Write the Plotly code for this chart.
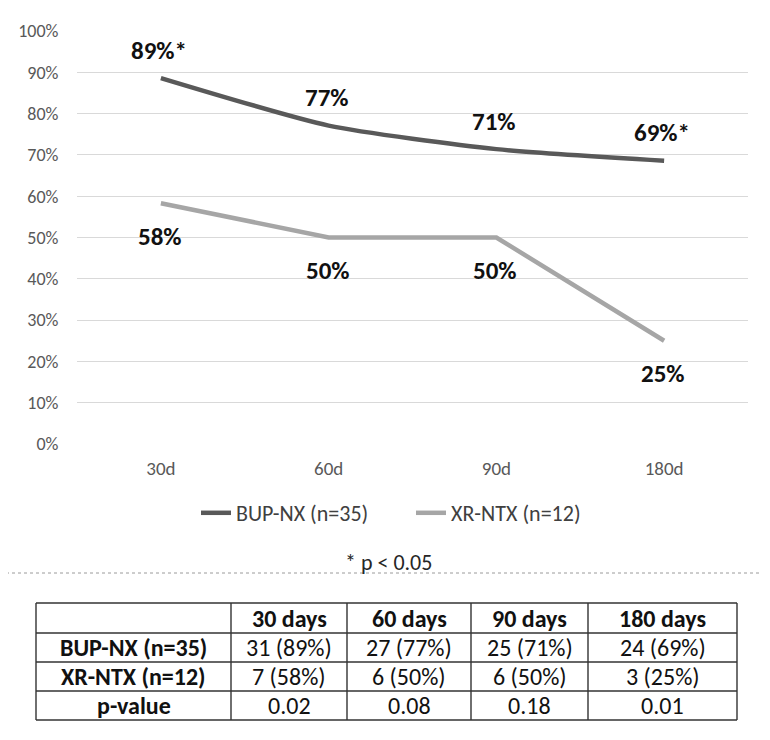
import plotly.graph_objects as go

# ---- data ----
categories = ["30d", "60d", "90d", "180d"]
bup_values = [88.6, 77.1, 71.4, 68.6]
xr_values = [58.3, 50.0, 50.0, 25.0]
bup_labels = ["89%*", "77%", "71%", "69%*"]
xr_labels = ["58%", "50%", "50%", "25%"]
bup_name = "BUP-NX (n=35)"
xr_name = "XR-NTX (n=12)"
y_ticks = [0, 10, 20, 30, 40, 50, 60, 70, 80, 90, 100]
y_tick_text = [f"{v}%" for v in y_ticks]
footnote = "* p < 0.05"

table_header = ["", "30 days", "60 days", "90 days", "180 days"]
table_rows = ["BUP-NX (n=35)", "XR-NTX (n=12)", "p-value"]
table_30 = ["31 (89%)", "7 (58%)", "0.02"]
table_60 = ["27 (77%)", "6 (50%)", "0.08"]
table_90 = ["25 (71%)", "6 (50%)", "0.18"]
table_180 = ["24 (69%)", "3 (25%)", "0.01"]

W, H = 770, 740
OFF = 8  # page body margin offset
FONT = "Carlito, Lato, sans-serif"
DARK = "#595959"
LIGHT = "#a6a6a6"


def px(x):
    return (x - OFF) / W


def py(y):
    return 1 - (y - OFF) / H


fig = go.Figure()
fig.add_trace(go.Scatter(
    x=categories, y=bup_values, name=bup_name, mode="lines",
    line=dict(color=DARK, width=4.5, shape="spline", smoothing=0.6),
    hoverinfo="skip"))
fig.add_trace(go.Scatter(
    x=categories, y=xr_values, name=xr_name, mode="lines",
    line=dict(color=LIGHT, width=4.5),
    hoverinfo="skip"))

for c, v, t in zip(categories, bup_values, bup_labels):
    fig.add_annotation(x=c, y=v, text=f"<b>{t}</b>", showarrow=False,
                       yshift=28, xshift=-2,
                       font=dict(family=FONT, size=25, color="#111111"))
for c, v, t in zip(categories, xr_values, xr_labels):
    fig.add_annotation(x=c, y=v, text=f"<b>{t}</b>", showarrow=False,
                       yshift=-33, xshift=-1,
                       font=dict(family=FONT, size=25, color="#111111"))

fig.add_annotation(xref="paper", yref="paper", x=px(388), y=py(562),
                   text=footnote, showarrow=False, xanchor="center", yanchor="middle",
                   font=dict(family=FONT, size=22, color="#262626"))

fig.add_shape(type="line", xref="paper", yref="paper",
              x0=px(0), x1=px(766), y0=py(573), y1=py(573),
              line=dict(color="#9a9a9a", width=1, dash="dot"))

# ---- table drawn with shapes + annotations ----
col_edges = [36, 231, 347, 471, 588, 737]
row_edges = [603, 633, 662, 691, 720]
BORDER = dict(color="#333333", width=1.4)
for xe in col_edges:
    fig.add_shape(type="line", xref="paper", yref="paper",
                  x0=px(xe), x1=px(xe), y0=py(row_edges[0]), y1=py(row_edges[-1]),
                  line=BORDER)
for ye in row_edges:
    fig.add_shape(type="line", xref="paper", yref="paper",
                  x0=px(col_edges[0]), x1=px(col_edges[-1]), y0=py(ye), y1=py(ye),
                  line=BORDER)

table_columns = [[table_header[0]] + table_rows,
                 [table_header[1]] + table_30,
                 [table_header[2]] + table_60,
                 [table_header[3]] + table_90,
                 [table_header[4]] + table_180]
for ci, col in enumerate(table_columns):
    cx = (col_edges[ci] + col_edges[ci + 1]) / 2
    for ri, txt in enumerate(col):
        if not txt:
            continue
        cy = (row_edges[ri] + row_edges[ri + 1]) / 2
        bold = ri == 0 or ci == 0
        fig.add_annotation(xref="paper", yref="paper", x=px(cx), y=py(cy),
                           text=f"<b>{txt}</b>" if bold else txt,
                           showarrow=False, xanchor="center", yanchor="middle",
                           font=dict(family=FONT, size=24, color="#111111"))

fig.update_layout(
    width=W, height=H,
    margin=dict(l=0, r=0, t=0, b=0, autoexpand=False),
    paper_bgcolor="white", plot_bgcolor="white",
    showlegend=True,
    legend=dict(orientation="h", x=px(196), y=py(513), xanchor="left", yanchor="middle",
                entrywidth=170,
                font=dict(family=FONT, size=22, color="#404040"),
                bgcolor="rgba(0,0,0,0)"),
    xaxis=dict(domain=[px(77), px(748)], range=[-0.5, 3.5], type="category",
               automargin=False,
               showgrid=False, showline=False, zeroline=False,
               ticks="outside", ticklen=7, tickcolor="rgba(0,0,0,0)",
               tickfont=dict(family=FONT, size=19, color=DARK), fixedrange=True),
    yaxis=dict(domain=[py(444), py(31)], range=[0, 100],
               automargin=False,
               tickvals=y_ticks, ticktext=y_tick_text,
               showgrid=True, gridcolor="#d9d9d9", gridwidth=1,
               zeroline=False, showline=False,
               ticks="outside", ticklen=14, tickcolor="rgba(0,0,0,0)",
               tickfont=dict(family=FONT, size=18, color=DARK), fixedrange=True),
    font=dict(family=FONT),
)

fig.write_html("out.html")
